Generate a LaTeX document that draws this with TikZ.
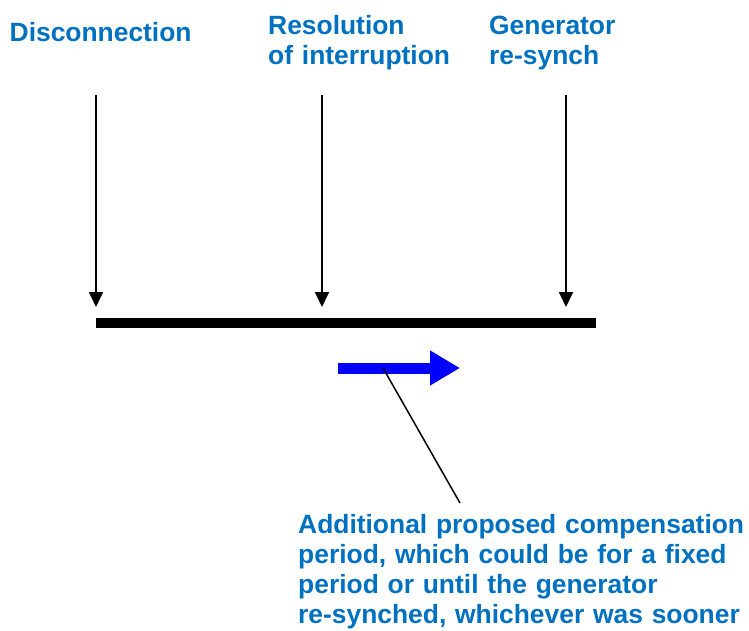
\documentclass[tikz,border=0pt]{standalone}
\usepackage{fontspec}
\setmainfont{Liberation Sans}
\usetikzlibrary{arrows.meta}
\definecolor{lblblue}{HTML}{0070C0}
\begin{document}
\begin{tikzpicture}[x=1pt,y=-1pt,
  lbl/.style={text=lblblue,font=\bfseries\fontsize{26.4}{30}\selectfont,align=left,anchor=base west,inner sep=0pt,text width=448pt},
  mark arrow/.style={line width=1.8pt,-{Triangle[width=14pt,length=15pt]}},
  bar/.style={line width=10pt},
  bigarrow/.style={blue,line width=11pt,-{Triangle[width=33pt,length=30pt]}},
  leader/.style={line width=1.5pt}]
\useasboundingbox (0,0) rectangle (749,630);
% labels
\node[lbl] (disc) at (9.5,41.7) {Disconnection};
\node[lbl] (res) at (268,34.3) {Resolution\\of interruption};
\node[lbl] (gen) at (489,34.3) {Generator\\re-synch};
\node[lbl] (note) at (298,533) {Additional proposed compensation\\period, which could be for a fixed\\period or until the generator\\re-synched, whichever was sooner};
% coordinates
\coordinate (a1s) at (96,95);  \coordinate (a1e) at (96,307);
\coordinate (a2s) at (322,95); \coordinate (a2e) at (322,307);
\coordinate (a3s) at (566,95); \coordinate (a3e) at (566,307);
\coordinate (barL) at (96,323); \coordinate (barR) at (596,323);
\coordinate (bs) at (338,368); \coordinate (be) at (460,368);
\coordinate (ls) at (383,368); \coordinate (le) at (460,503);
% drawing
\draw[bar] (barL) -- (barR);
\draw[mark arrow] (a1s) -- (a1e);
\draw[mark arrow] (a2s) -- (a2e);
\draw[mark arrow] (a3s) -- (a3e);
\draw[bigarrow] (bs) -- (be);
\draw[leader] (ls) -- (le);
\end{tikzpicture}
\end{document}
